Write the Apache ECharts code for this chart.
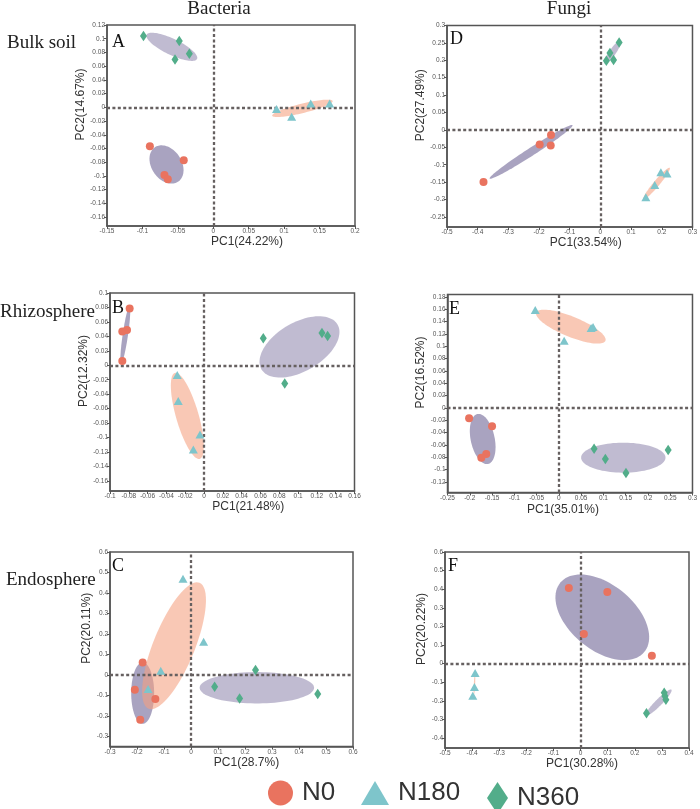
<!DOCTYPE html>
<html><head><meta charset="utf-8">
<script src="https://cdn.jsdelivr.net/npm/echarts@6/dist/echarts.min.js"></script>
<style>html,body{margin:0;padding:0;background:#fff}#c{width:700px;height:809px}</style>
</head><body><div id="c"></div>
<script>
// ---------------- DATA ----------------
const GROUPS = ['N0', 'N180', 'N360'];

// Panel A: Bacteria, bulk soil
const A_N0   = [[-0.0895,-0.0569],[-0.0417,-0.077],[-0.0689,-0.0985],[-0.0642,-0.105]];
const A_N180 = [[0.0892,-0.0025],[0.1106,-0.0137],[0.1375,0.0054],[0.1642,0.0054]];
const A_N360 = [[-0.0985,0.104],[-0.048,0.0966],[-0.054,0.0696],[-0.0338,0.078]];
// ellipses: [centerX, centerY, semiAxis1X, semiAxis1Y, semiAxis2X, semiAxis2Y] (data units)
const A_ELLIPSES = [[-0.066,-0.0833,0.0167,-0.0249,0.0173,0.01264],
                    [0.1258,-0.0015,0.0427,0.0108,0.00155,-0.00666],
                    [-0.0585,0.0882,0.0356,-0.0176,0.00483,0.01063]];
const A_X_TICKS = [-0.15,-0.1,-0.05,0,0.05,0.1,0.15,0.2];
const A_Y_TICKS = [-0.16,-0.14,-0.12,-0.1,-0.08,-0.06,-0.04,-0.02,0,0.02,0.04,0.06,0.08,0.1,0.12];

// Panel B: Bacteria, rhizosphere
const B_N0   = [[-0.0791,0.0784],[-0.0819,0.0489],[-0.0869,0.0466],[-0.0869,0.006]];
const B_N180 = [[-0.0285,-0.0134],[-0.0274,-0.0493],[-0.0043,-0.0959],[-0.0114,-0.1166]];
const B_N360 = [[0.063,0.0373],[0.0858,-0.0254],[0.1254,0.0447],[0.1314,0.0406]];
const B_ELLIPSES = [[-0.0837,0.042,0.00445,0.0396,0.00281,-0.00053],
                    [-0.0178,-0.0701,-0.0132,0.0595,0.0115,0.0043],
                    [0.1015,0.0254,0.0404,0.0311,0.01325,-0.02886]];
const B_X_TICKS = [-0.1,-0.08,-0.06,-0.04,-0.02,0,0.02,0.04,0.06,0.08,0.1,0.12,0.14,0.16];
const B_Y_TICKS = [-0.16,-0.14,-0.12,-0.1,-0.08,-0.06,-0.04,-0.02,0,0.02,0.04,0.06,0.08,0.1];

// Panel C: Bacteria, endosphere
const C_N0   = [[-0.179,0.0618],[-0.208,-0.0715],[-0.132,-0.117],[-0.188,-0.218]];
const C_N180 = [[-0.0296,0.47],[0.0468,0.1626],[-0.112,0.0211],[-0.159,-0.0683]];
const C_N360 = [[0.239,0.0244],[0.0875,-0.0569],[0.18,-0.1138],[0.4694,-0.0927]];
const C_ELLIPSES = [[-0.179,-0.0878,0,0.1496,0.0425,0],
                    [-0.0628,0.143,0.0944,0.3068,0.0711,-0.0381],
                    [0.244,-0.0618,0.2119,0,0,-0.0764]];
const C_X_TICKS = [-0.3,-0.2,-0.1,0,0.1,0.2,0.3,0.4,0.5,0.6];
const C_Y_TICKS = [-0.3,-0.2,-0.1,0,0.1,0.2,0.3,0.4,0.5,0.6];

// Panel D: Fungi, bulk soil
const D_N0   = [[-0.381,-0.15],[-0.198,-0.042],[-0.161,-0.0144],[-0.162,-0.045]];
const D_N180 = [[0.148,-0.1935],[0.177,-0.158],[0.197,-0.122],[0.217,-0.1255]];
const D_N360 = [[0.0193,0.199],[0.031,0.221],[0.0428,0.201],[0.061,0.251]];
const D_ELLIPSES = [[-0.226,-0.0632,0.135,0.0766,0.00686,-0.00968],
                    [0.183,-0.154,0.0428,0.045,0.0074,-0.0056],
                    [0.0396,0.223,0.0257,0.0326,0.0088,-0.0056]];
const D_X_TICKS = [-0.5,-0.4,-0.3,-0.2,-0.1,0,0.1,0.2,0.3];
const D_Y_TICKS = [-0.25,-0.2,-0.15,-0.1,-0.05,0,0.05,0.1,0.15,0.2,0.25,0.3];

// Panel E: Fungi, rhizosphere
const E_N0   = [[-0.2015,-0.0168],[-0.15,-0.0297],[-0.163,-0.0746],[-0.174,-0.0805]];
const E_N180 = [[-0.053,0.159],[0.0119,0.109],[0.0724,0.1297],[0.0768,0.1313]];
const E_N360 = [[0.0791,-0.0659],[0.1044,-0.0827],[0.1507,-0.1054],[0.2454,-0.0681]];
const E_ELLIPSES = [[-0.171,-0.0503,-0.0119,0.0405,0.0263,0.00405],
                    [0.0269,0.1319,0.0776,-0.0189,0.00925,-0.02],
                    [0.1447,-0.0805,0.0947,0,0,-0.0243]];
const E_X_TICKS = [-0.25,-0.2,-0.15,-0.1,-0.05,0,0.05,0.1,0.15,0.2,0.25,0.3];
const E_Y_TICKS = [-0.12,-0.1,-0.08,-0.06,-0.04,-0.02,0,0.02,0.04,0.06,0.08,0.1,0.12,0.14,0.16,0.18];

// Panel F: Fungi, endosphere
const F_N0   = [[-0.0432,0.4066],[0.0988,0.385],[0.0123,0.1594],[0.263,0.043]];
const F_N180 = [[-0.3889,-0.0501],[-0.3914,-0.1254],[-0.3975,-0.172]];
const F_N360 = [[0.2432,-0.2669],[0.3086,-0.1558],[0.3111,-0.1737],[0.3148,-0.1934]];
const F_ELLIPSES = [[0.0802,0.249,0.1546,-0.1868,0.0773,0.1345],
                    [-0.3914,-0.1128,-0.00185,-0.0537,0.0025,0],
                    [0.2877,-0.2095,0.0475,0.0698,0.0088,-0.0125]];
const F_X_TICKS = [-0.5,-0.4,-0.3,-0.2,-0.1,0,0.1,0.2,0.3,0.4];
const F_Y_TICKS = [-0.4,-0.3,-0.2,-0.1,0,0.1,0.2,0.3,0.4,0.5,0.6];

// ---------------- LAYOUT / STYLE ----------------
const SANS = 'Liberation Sans, Arial, sans-serif';
const SERIF = 'Liberation Serif, Times New Roman, serif';
const POINT_COLORS = ['#e9735f', '#7ec5cb', '#52ad8a'];
const ELLIPSE_FILLS = ['rgba(136,128,168,0.72)', 'rgba(245,160,128,0.58)', 'rgba(140,132,172,0.55)'];
const SYMBOLS = ['circle', 'triangle', 'diamond'];
const SYMBOL_SIZES = [8, [9, 8], [7, 10.5]];

const PANELS = [
  {letter:'A', pts:[A_N0,A_N180,A_N360], ell:A_ELLIPSES, xt:A_X_TICKS, yt:A_Y_TICKS,
   grid:{left:107, top:25, width:248, height:201}, x:[-0.15,0.2], y:[-0.173,0.12],
   xName:'PC1(24.22%)', yName:'PC2(14.67%)', xPad:[0,0,0,32], xGap:10, yGap:17, lx:112, ly:42},
  {letter:'B', pts:[B_N0,B_N180,B_N360], ell:B_ELLIPSES, xt:B_X_TICKS, yt:B_Y_TICKS,
   grid:{left:110, top:293, width:244.5, height:198}, x:[-0.1,0.16], y:[-0.174,0.1],
   xName:'PC1(21.48%)', yName:'PC2(12.32%)', xPad:[0,0,0,32], xGap:10, yGap:20, lx:112, ly:308},
  {letter:'C', pts:[C_N0,C_N180,C_N360], ell:C_ELLIPSES, xt:C_X_TICKS, yt:C_Y_TICKS,
   grid:{left:110, top:552, width:243, height:194.5}, x:[-0.3,0.6], y:[-0.348,0.6],
   xName:'PC1(28.7%)', yName:'PC2(20.11%)', xPad:[0,0,0,30], xGap:7, yGap:15, lx:112, ly:566},
  {letter:'D', pts:[D_N0,D_N180,D_N360], ell:D_ELLIPSES, xt:D_X_TICKS, yt:D_Y_TICKS,
   grid:{left:447, top:25.5, width:248, height:201.5}, x:[-0.5,0.3], y:[-0.279,0.3],
   xName:'PC1(33.54%)', yName:'PC2(27.49%)', xPad:[0,0,0,32], xGap:10, yGap:19, lx:450, ly:39},
  {letter:'E', pts:[E_N0,E_N180,E_N360], ell:E_ELLIPSES, xt:E_X_TICKS, yt:E_Y_TICKS,
   grid:{left:447.5, top:294.5, width:246, height:198}, x:[-0.25,0.3], y:[-0.137,0.184],
   xName:'PC1(35.01%)', yName:'PC2(16.52%)', xPad:[0,14,0,0], xGap:11, yGap:20, lx:449, ly:309},
  {letter:'F', pts:[F_N0,F_N180,F_N360], ell:F_ELLIPSES, xt:F_X_TICKS, yt:F_Y_TICKS,
   grid:{left:445, top:552, width:244, height:196}, x:[-0.5,0.4], y:[-0.453,0.6],
   xName:'PC1(30.28%)', yName:'PC2(20.22%)', xPad:[0,0,0,30], xGap:10, yGap:16, lx:448, ly:566}
];

function renderEllipse(params, api) {
  const cx = api.value(0), cy = api.value(1);
  const ux = api.value(2), uy = api.value(3), vx = api.value(4), vy = api.value(5);
  const pts = [];
  const n = 90;
  for (let i = 0; i < n; i++) {
    const t = i / n * Math.PI * 2;
    const c = Math.cos(t), s = Math.sin(t);
    pts.push(api.coord([cx + ux * c + vx * s, cy + uy * c + vy * s]));
  }
  return {type: 'polygon', shape: {points: pts}, style: {fill: ELLIPSE_FILLS[params.dataIndex]}};
}

const grids = [], xAxes = [], yAxes = [], series = [], graphics = [];
PANELS.forEach((p, i) => {
  grids.push(Object.assign({show: true, borderColor: '#555', borderWidth: 1.5, backgroundColor: 'transparent'}, p.grid));
  const labelStyle = {fontSize: 6.5, color: '#555', fontFamily: SANS, interval: 0, hideOverlap: false};
  xAxes.push({
    gridIndex: i, type: 'value', min: p.x[0], max: p.x[1],
    axisLine: {onZero: false, lineStyle: {color: '#555', width: 1.5}},
    axisTick: {show: true, length: 3, lineStyle: {color: '#555'}, customValues: p.xt},
    axisLabel: Object.assign({margin: 2, customValues: p.xt}, labelStyle),
    splitLine: {show: false},
    name: p.xName, nameLocation: 'middle', nameGap: p.xGap,
    nameTextStyle: {fontSize: 12, color: '#333', fontFamily: SANS, padding: p.xPad}
  });
  yAxes.push({
    gridIndex: i, type: 'value', min: p.y[0], max: p.y[1],
    axisLine: {onZero: false, lineStyle: {color: '#555', width: 1.5}},
    axisTick: {show: true, length: 3, lineStyle: {color: '#555'}, customValues: p.yt},
    axisLabel: Object.assign({margin: 2, customValues: p.yt}, labelStyle),
    splitLine: {show: false},
    name: p.yName, nameLocation: 'middle', nameGap: p.yGap,
    nameTextStyle: {fontSize: 12, color: '#333', fontFamily: SANS, padding: [0, 0, 0, 42]}
  });
  series.push({
    type: 'custom', name: 'ellipses', xAxisIndex: i, yAxisIndex: i, z: 1, silent: true,
    renderItem: renderEllipse, data: p.ell,
    dimensions: ['cx', 'cy', 'ux', 'uy', 'vx', 'vy'], encode: {x: 0, y: 1}
  });
  series.push({
    type: 'scatter', name: 'zero', xAxisIndex: i, yAxisIndex: i, data: [], silent: true,
    markLine: {silent: true, symbol: 'none', z: 5, label: {show: false},
      lineStyle: {type: [3, 2.4], color: '#666060', width: 2.3},
      emphasis: {disabled: true},
      data: [{xAxis: 0}, {yAxis: 0}]}
  });
  GROUPS.forEach((g, k) => {
    series.push({
      type: 'scatter', name: g, xAxisIndex: i, yAxisIndex: i, z: 10,
      symbol: SYMBOLS[k], symbolSize: SYMBOL_SIZES[k],
      itemStyle: {color: POINT_COLORS[k], opacity: 1},
      data: p.pts[k]
    });
  });
  graphics.push({type: 'text', x: p.lx, y: p.ly, z: 100,
    style: {text: p.letter, font: '18px ' + SERIF, fill: '#111', textVerticalAlign: 'middle'}});
});

const headText = (t, x, y, align) => ({type: 'text', x, y, z: 100,
  style: {text: t, font: '19px ' + SERIF, fill: '#222', textAlign: align, textVerticalAlign: 'middle'}});
graphics.push(headText('Bacteria', 219, 9, 'center'));
graphics.push(headText('Fungi', 569, 9, 'center'));
graphics.push(headText('Bulk soil', 7, 43, 'left'));
graphics.push(headText('Rhizosphere', 0, 312, 'left'));
graphics.push(headText('Endosphere', 6, 580, 'left'));

const legendText = {fontSize: 26, color: '#333', fontFamily: SANS, padding: [0, 0, 0, 4]};
const legends = [
  {data: ['N0'], left: 268, top: 780, itemWidth: 25, itemHeight: 25, icon: 'circle'},
  {data: ['N180'], left: 361, top: 780, itemWidth: 28, itemHeight: 24, icon: 'triangle'},
  {data: ['N360'], left: 487, top: 782, itemWidth: 21, itemHeight: 32, icon: 'diamond'}
].map(l => Object.assign({padding: 0, selectedMode: false, textStyle: legendText}, l));

const chart = echarts.init(document.getElementById('c'), null, {renderer: 'canvas'});
chart.setOption({
  animation: false,
  backgroundColor: '#fff',
  grid: grids, xAxis: xAxes, yAxis: yAxes, series: series,
  legend: legends, graphic: graphics
});
</script></body></html>
